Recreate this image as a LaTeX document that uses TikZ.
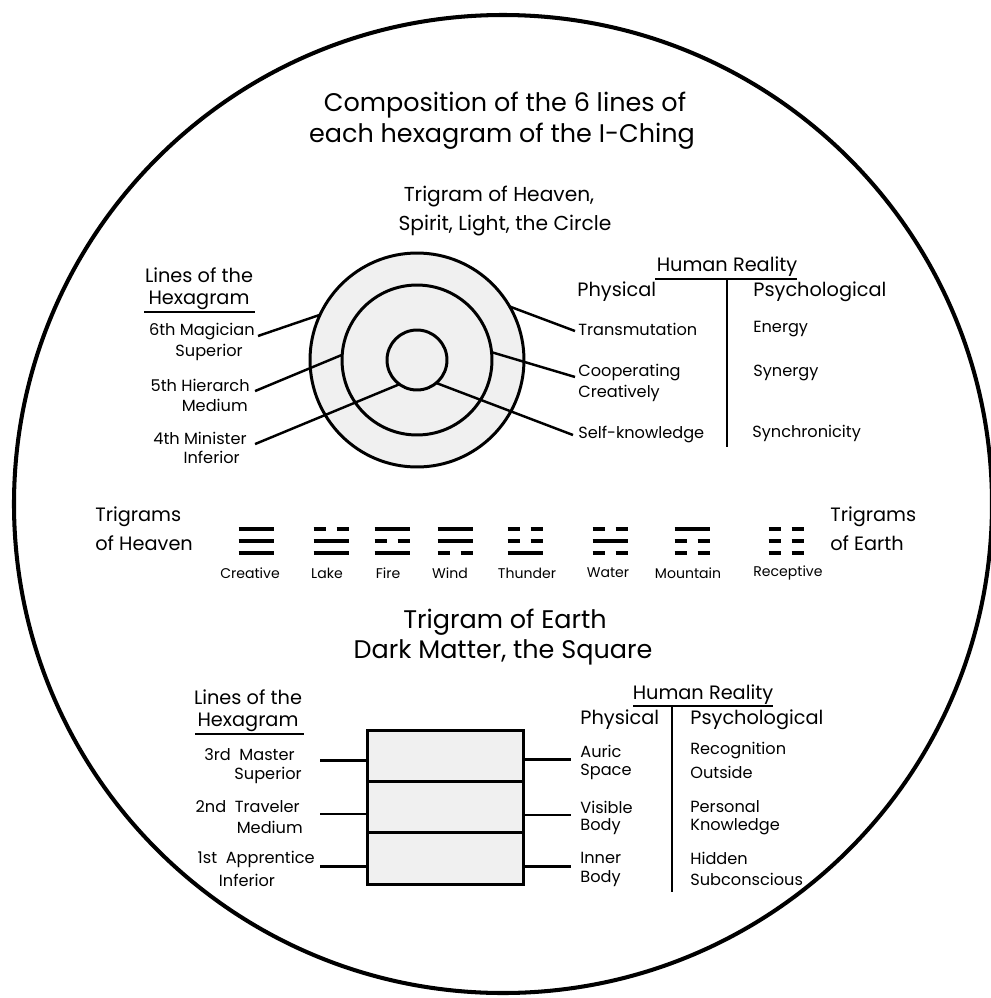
\documentclass[tikz,border=0pt]{standalone}
\usepackage{fontspec}
\setmainfont{Poppins}
\usetikzlibrary{calc, positioning}

\tikzset{
  title/.style={font=\fontsize{14.5}{18}\selectfont, inner sep=0pt},
  subtitle/.style={font=\fontsize{11.5}{14}\selectfont, inner sep=0pt},
  colhead/.style={font=\fontsize{11}{13}\selectfont, inner sep=0pt},
  lbl/.style={font=\fontsize{9.2}{11}\selectfont, inner sep=0pt},
  gname/.style={font=\fontsize{8}{9}\selectfont, inner sep=0pt},
  ring/.style={circle, draw, line width=1.7pt, inner sep=0pt, outer sep=0pt},
  tier/.style={rectangle, draw, fill=gray!12, line width=1.7pt, minimum width=3.14cm,
    minimum height=1.0267cm, inner sep=0pt, outer sep=0pt},
  conn/.style={line width=1.4pt},
  uline/.style={line width=1.6pt},
  yao/.style={line width=2.4pt},
}

\begin{document}
\begin{tikzpicture}[x=0.02cm, y=-0.02cm]
  \useasboundingbox (0,0) rectangle (991,998);

  % the great circle
  \draw[line width=2.3pt] (503,504) circle (489);

  % titles
  \node[title] (t1) at (505,105) {Composition of the 6 lines of};
  \node[title] (t2) at (502,136) {each hexagram of the I-Ching};
  \node[subtitle] (h1) at (499,197) {Trigram of Heaven,};
  \node[subtitle] (h2) at (505,226) {Spirit, Light, the Circle};

  % heaven: three rings
  \node[ring, fill=gray!12, minimum size=4.28cm] (outer) at (417,360) {};
  \node[ring, minimum size=3cm] (middle) at (417,360) {};
  \node[ring, minimum size=1.2cm] (inner) at (417,360) {};

  \node[colhead] (hl1) at (199,275) {Lines of the};
  \node[colhead] (hl2) at (199,300) {Hexagram};
  \draw[uline] (144,312) -- (255,312);
  \node[lbl, anchor=east] (sixth) at (255,332) {6th Magician};
  \node[lbl, anchor=east] (sixthr) at (243,352) {Superior};
  \node[lbl, anchor=east] (fifth) at (250,385) {5th Hierarch};
  \node[lbl, anchor=east] (fifthr) at (248,405) {Medium};
  \node[lbl, anchor=east] (fourth) at (247,438) {4th Minister};
  \node[lbl, anchor=east] (fourthr) at (240,457) {Inferior};

  \draw[conn] ($(sixth.base east)+(3,0)$) -- (outer.155);
  \draw[conn] ($(fifth.base east)+(5,0)$) -- (middle.176);
  \draw[conn] ($(fourth.base east)+(8,0)$) -- (inner.234);

  \node[colhead] (hr) at (727,267) {Human Reality};
  \draw[uline] (655,279) -- (797,279);
  \draw[line width=1.1pt] (727,279) -- (727,447);
  \node[colhead, anchor=west] (phys) at (577,292) {Physical};
  \node[colhead, anchor=west] (psych) at (753,292) {Psychological};
  \node[lbl, anchor=west] (trans) at (578,329) {Transmutation};
  \node[lbl, anchor=west] (coop) at (578,373) {Cooperating};
  \node[lbl, anchor=west] (creat) at (578,393) {Creatively};
  \node[lbl, anchor=west] (self) at (578,435) {Self-knowledge};
  \node[lbl, anchor=west] (energy) at (753,329) {Energy};
  \node[lbl, anchor=west] (syn) at (753,373) {Synergy};
  \node[lbl, anchor=west] (sync) at (752,433) {Synchronicity};

  \draw[conn] (outer.30) -- ($(trans.west)+(-3,2)$);
  \draw[conn] (middle.6) -- ($(coop.base west)+(-3,0)$);
  \draw[conn] (inner.-50) -- ($(self.west)+(-5,0)$);

  % the eight trigrams
  \node[colhead, anchor=west] (th1) at (95,517) {Trigrams};
  \node[colhead, anchor=west] (th2) at (95,543) {of Heaven};
  \node[colhead, anchor=west] (te1) at (830,517) {Trigrams};
  \node[colhead, anchor=west] (te2) at (830,543) {of Earth};
  \foreach \cx/\lx/\ya/\yb/\yc/\nm in {256/250/1/1/1/Creative, 331/327/0/1/1/Lake,
      392/388/1/0/1/Fire, 455/450/1/1/0/Wind, 525/527/0/0/1/Thunder,
      610/608/0/1/0/Water, 692/688/1/0/0/Mountain, 786/788/0/0/0/Receptive}{
    \foreach \ly/\solid in {529/\ya, 541/\yb, 553/\yc}{
      \draw[yao] (\cx-17.5,\ly) -- (\cx-5.5,\ly);
      \draw[yao] (\cx+5.5,\ly) -- (\cx+17.5,\ly);
      \ifnum\solid=1 \draw[yao] (\cx-6,\ly) -- (\cx+6,\ly); \fi
    }
    \node[gname] (\nm) at (\lx,573) {\nm};
  }

  % earth: the square
  \node[title] (e1) at (505,622) {Trigram of Earth};
  \node[title] (e2) at (503,652) {Dark Matter, the Square};

  \node[tier] (tier3) at (445.5,755.7) {};
  \node[tier, below=0pt of tier3] (tier2) {};
  \node[tier, below=0pt of tier2] (tier1) {};

  \node[colhead] (bl1) at (248,697) {Lines of the};
  \node[colhead] (bl2) at (248,722) {Hexagram};
  \draw[uline] (195,734) -- (304,734);
  \node[lbl, anchor=east] (third) at (295,755) {3rd\ \ Master};
  \node[lbl, anchor=east] (thirdr) at (302,775) {Superior};
  \node[lbl, anchor=east] (second) at (300,807) {2nd\ \ Traveler};
  \node[lbl, anchor=east] (secondr) at (303,827) {Medium};
  \node[lbl, anchor=east] (first) at (315,859) {1st\ \ Apprentice};
  \node[lbl] (firstr) at (247,880) {Inferior};

  \draw[conn] ($(tier3.west)+(0,5)$) -- ++(-47,0);
  \draw[conn] ($(tier2.west)+(0,7)$) -- ++(-47,0);
  \draw[conn] ($(tier1.west)+(0,8)$) -- ++(-47,0);
  \draw[conn] ($(tier3.east)+(0,4)$) -- ++(47,0);
  \draw[conn] ($(tier2.east)+(0,8)$) -- ++(47,0);
  \draw[conn] ($(tier1.east)+(0,8)$) -- ++(47,0);

  \node[colhead] (br) at (703,695) {Human Reality};
  \draw[uline] (633,706) -- (773,706);
  \draw[line width=1.1pt] (672,706) -- (672,892);
  \node[colhead, anchor=west] (bphys) at (580,720) {Physical};
  \node[colhead, anchor=west] (bpsych) at (690,720) {Psychological};
  \node[lbl, anchor=west] (auric) at (580,751) {Auric};
  \node[lbl, anchor=west] (space) at (580,772) {Space};
  \node[lbl, anchor=west] (visible) at (580,807) {Visible};
  \node[lbl, anchor=west] (vbody) at (580,827) {Body};
  \node[lbl, anchor=west] (innerb) at (580,858) {Inner};
  \node[lbl, anchor=west] (ibody) at (580,879) {Body};
  \node[lbl, anchor=west] (recog) at (690,751) {Recognition};
  \node[lbl, anchor=west] (outs) at (690,772) {Outside};
  \node[lbl, anchor=west] (pers) at (690,807) {Personal};
  \node[lbl, anchor=west] (know) at (690,827) {Knowledge};
  \node[lbl, anchor=west] (hidden) at (690,858) {Hidden};
  \node[lbl, anchor=west] (subc) at (690,879) {Subconscious};
\end{tikzpicture}
\end{document}
